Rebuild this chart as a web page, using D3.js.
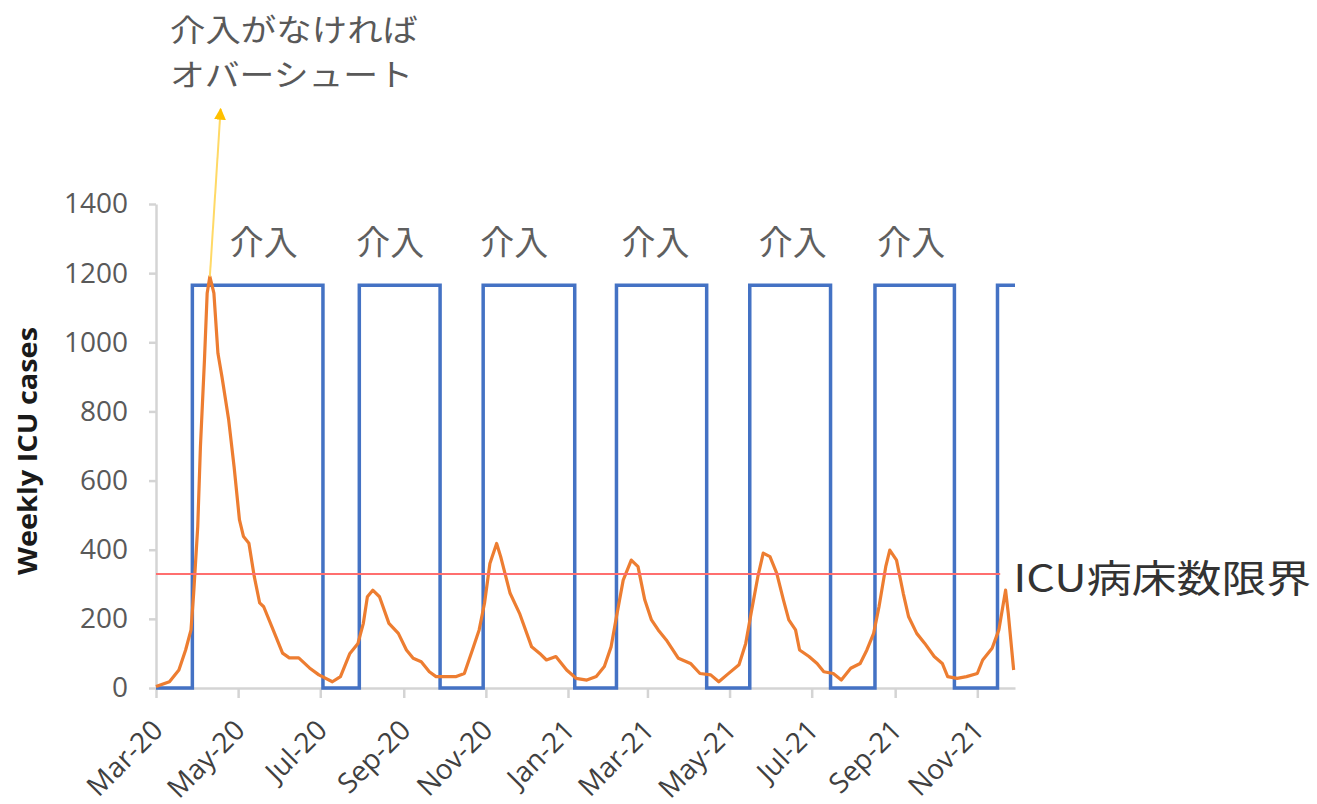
<!DOCTYPE html>
<html>
<head>
<meta charset="utf-8">
<script src="https://cdn.jsdelivr.net/npm/d3@7"></script>
<style>
  html, body { margin: 0; padding: 0; background: #ffffff; }
  svg { display: block; }
</style>
</head>
<body>
<svg id="chart" width="1317" height="804"></svg>
<script>
// Series start: 1 March 2020. All day values are days since that date.
const seriesStart = new Date(2020, 2, 1);
const seriesEndDay = 638;

// Modelled weekly ICU cases (day offset, value)
const caseDays = [0,10,17,22,26,28,31,33,36,38,40,43,46,49,54,58,62,65,69,73,77,80,87,94,99,106,114,121,131,137,144,150,154,157,161,166,173,180,186,191,197,203,208,216,223,229,235,240,244,248,253,256,263,270,279,285,290,297,305,312,320,327,333,338,342,347,353,358,363,368,373,379,388,397,404,412,418,424,433,438,442,447,451,456,461,466,470,475,478,485,491,496,503,509,516,523,528,533,537,542,545,550,555,559,565,571,578,584,588,595,602,610,614,621,626,631,633,637];
const icuCases = [4,18,52,110,168,275,467,698,949,1142,1190,1142,968,900,775,640,486,438,419,322,246,235,168,101,87,87,58,38,18,33,100,129,187,264,283,264,187,158,110,86,76,47,33,33,33,42,110,168,245,360,418,380,274,216,119,100,81,91,52,28,23,33,62,119,206,312,370,351,255,197,168,139,86,71,42,38,18,38,67,129,216,322,390,380,332,255,197,168,110,91,71,47,42,23,57,71,110,158,235,351,399,370,274,206,158,129,91,71,33,28,33,42,81,115,168,283,216,52];

// Intervention on/off periods [start day, end day]
const interventionPeriods = [[27,124],[151,211],[243,311],[342,409],[441,501],[534,593],[625,638]];
const interventionLevel = 1165;
const interventionLabel = "介入";
const interventionLabelDays = [80, 174, 266, 371, 473, 561];

// ICU bed capacity line
const icuCapacity = 330;
const icuCapacityDays = [0, 627];
const icuCapacityLabel = "ICU病床数限界";

// Axis ticks
const yTicks = [0, 200, 400, 600, 800, 1000, 1200, 1400];
const yTitle = "Weekly ICU cases";

// Overshoot annotation
const overshootText = ["介入がなければ", "オバーシュート"];
const overshootArrow = { from: [40, 1190], to: [48.5, 1675] };

const latin = "'Open Sans', 'Liberation Sans', Arial, sans-serif";
const cjk = "'Noto Sans CJK JP', 'Noto Sans CJK SC', sans-serif";

const dayToDate = d => d3.timeDay.offset(seriesStart, d);

const svg = d3.select("#chart");

const x = d3.scaleTime()
  .domain([seriesStart, dayToDate(seriesEndDay)])
  .range([156, 1015]);
const y = d3.scaleLinear()
  .domain([0, 1400])
  .range([688, 204]);

// Y axis
const yAxis = svg.append("g")
  .attr("transform", `translate(${x.range()[0]},0)`)
  .call(d3.axisLeft(y).tickValues(yTicks).tickFormat(d3.format("d"))
    .tickSize(7).tickSizeOuter(0).tickPadding(21));
yAxis.select(".domain").attr("stroke", "#d4d4d4").attr("stroke-width", 2.5);
yAxis.selectAll(".tick line").attr("stroke", "#d4d4d4").attr("stroke-width", 2.5);
yAxis.selectAll(".tick text")
  .attr("font-family", latin).attr("font-size", 28).attr("fill", "#595959");

// X axis
const xAxis = svg.append("g")
  .attr("transform", `translate(0,${y(0)})`)
  .call(d3.axisBottom(x)
    .ticks(d3.timeMonth.every(2))
    .tickFormat(d3.timeFormat("%b-%y"))
    .tickSize(10).tickSizeOuter(0));
xAxis.select(".domain").attr("stroke", "#d4d4d4").attr("stroke-width", 2.5);
xAxis.selectAll(".tick line").attr("stroke", "#d4d4d4").attr("stroke-width", 2.5);
xAxis.selectAll(".tick text")
  .attr("font-family", latin).attr("font-size", 28).attr("fill", "#404040")
  .attr("x", 0).attr("y", 0).attr("dy", 0)
  .attr("text-anchor", "end")
  .attr("transform", "translate(8,44) rotate(-45)");

// Y axis title
svg.append("text")
  .attr("transform", "translate(37,451) rotate(-90)")
  .attr("text-anchor", "middle")
  .attr("font-family", latin).attr("font-weight", "bold").attr("font-size", 27)
  .attr("textLength", 248).attr("lengthAdjust", "spacingAndGlyphs")
  .attr("fill", "#1a1a1a")
  .text(yTitle);

// Intervention square wave
const wave = [[0, 0]];
interventionPeriods.forEach(([s, e]) => {
  wave.push([s, 0], [s, interventionLevel], [e, interventionLevel]);
  if (e < seriesEndDay) wave.push([e, 0]);
});
const line = d3.line().x(d => x(dayToDate(d[0]))).y(d => y(d[1]));
svg.append("path")
  .attr("d", line(wave))
  .attr("fill", "none")
  .attr("stroke", "#4472C4")
  .attr("stroke-width", 3.5)
  .attr("stroke-linejoin", "miter");

// ICU cases curve
svg.append("path")
  .attr("d", line(caseDays.map((d, i) => [d, icuCases[i]])))
  .attr("fill", "none")
  .attr("stroke", "#ED7D31")
  .attr("stroke-width", 3.2)
  .attr("stroke-linejoin", "round");

// ICU capacity line
svg.append("path")
  .attr("d", line(icuCapacityDays.map(d => [d, icuCapacity])))
  .attr("stroke", "#FF6F6F")
  .attr("stroke-width", 2);

svg.append("text")
  .attr("x", x(dayToDate(icuCapacityDays[1])) + 13)
  .attr("y", y(icuCapacity) + 18)
  .attr("font-family", cjk).attr("font-size", 38)
  .attr("textLength", 298).attr("lengthAdjust", "spacingAndGlyphs")
  .attr("fill", "#333333")
  .text(icuCapacityLabel);

// Intervention labels
svg.selectAll("text.intervention")
  .data(interventionLabelDays)
  .join("text")
  .attr("class", "intervention")
  .attr("x", d => x(dayToDate(d)))
  .attr("y", y(interventionLevel) - 30)
  .attr("text-anchor", "middle")
  .attr("font-family", cjk).attr("font-size", 34)
  .attr("fill", "#5f5f5f")
  .text(interventionLabel);

// Overshoot arrow
const [ax0, ay0] = [x(dayToDate(overshootArrow.from[0])), y(overshootArrow.from[1])];
const [ax1, ay1] = [x(dayToDate(overshootArrow.to[0])), y(overshootArrow.to[1])];
svg.append("defs").append("marker")
  .attr("id", "arrowhead")
  .attr("viewBox", "0 0 10 10")
  .attr("refX", 9).attr("refY", 5)
  .attr("markerWidth", 6).attr("markerHeight", 6)
  .attr("markerUnits", "strokeWidth")
  .attr("orient", "auto")
  .append("path")
  .attr("d", "M0,0 L10,5 L0,10 Z")
  .attr("fill", "#FFC000");
svg.append("line")
  .attr("x1", ax0).attr("y1", ay0)
  .attr("x2", ax1).attr("y2", ay1)
  .attr("stroke", "#FFD966")
  .attr("stroke-width", 2)
  .attr("marker-end", "url(#arrowhead)");

// Two-line annotation
const noteWidths = [248, 243];
svg.selectAll("text.overshoot")
  .data(overshootText)
  .join("text")
  .attr("class", "overshoot")
  .attr("x", 170)
  .attr("y", (d, i) => 41 + i * 45)
  .attr("font-family", cjk).attr("font-size", 31)
  .attr("textLength", (d, i) => noteWidths[i])
  .attr("lengthAdjust", "spacingAndGlyphs")
  .attr("fill", "#595959")
  .text(d => d);
</script>
</body>
</html>
